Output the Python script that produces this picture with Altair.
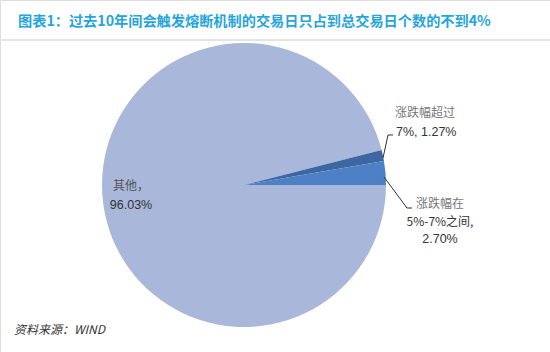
import math
import altair as alt
import pandas as pd

# ---- data ----
categories = ["其他", "涨跌幅超过7%", "涨跌幅在5%-7%之间"]
shares = [96.03, 1.27, 2.70]
order = [0, 1, 2]
colors = ["#A8B7DA", "#3C67A3", "#4D80C4"]

title_text = "图表1：过去10年间会触发熔断机制的交易日只占到总交易日个数的不到4%"
source_text = "资料来源：WIND"

df = pd.DataFrame({"cat": categories, "share": shares, "ord": order})
one = pd.DataFrame({"a": [0]})

CX, CY, R = 244, 185, 142

pie = alt.Chart(df).mark_arc(outerRadius=R, stroke=None).encode(
    theta=alt.Theta("share:Q", stack=True,
                    scale=alt.Scale(range=[math.pi / 2, math.pi / 2 + 2 * math.pi])),
    color=alt.Color("cat:N", scale=alt.Scale(domain=categories, range=colors), legend=None),
    order=alt.Order("ord:Q"),
    x=alt.value(CX),
    y=alt.value(CY),
)


def txt(s, x, y, size=12, color="#333333", align="center", weight="normal",
        style="normal", font="Noto Sans CJK SC"):
    return alt.Chart(one).mark_text(
        fontSize=size, color=color, align=align, baseline="middle",
        fontWeight=weight, fontStyle=style, font=font,
    ).encode(x=alt.value(x), y=alt.value(y), text=alt.value(s))


def seg(x1, y1, x2, y2, color="#333333", w=1):
    return alt.Chart(one).mark_rule(color=color, strokeWidth=w).encode(
        x=alt.value(x1), y=alt.value(y1), x2=alt.value(x2), y2=alt.value(y2))


pct = [f"{v:.2f}%" for v in shares]

layers = [
    seg(0, 40, 550, 40, color="#e3e3e3", w=2),
    pie,
    txt(title_text, 18, 22, size=14.2, color="#25A5DC", align="left", weight="bold"),
    # 其他
    txt("其他，", 131, 186, color="#555555"),
    txt(pct[0], 131, 205, size=12.5, color="#333333", font="Liberation Sans"),
    # 超过7%
    seg(383, 158, 388, 135),
    seg(388, 135, 393, 135),
    txt("涨跌幅超过", 395, 113, color="#777777", align="left"),
    txt("7%, " + pct[1], 396, 132, size=12.5, color="#333333", align="left", font="Liberation Sans"),
    # 5%-7%
    seg(384, 177, 407, 208),
    seg(407, 208, 412, 208),
    txt("涨跌幅在", 440, 204, color="#777777"),
    txt("5%-7%之间,", 440, 222, color="#333333"),
    txt(pct[2], 440, 239, size=12.5, color="#333333", font="Liberation Sans"),
    # source
    txt(source_text, 14, 330, size=12, color="#333333", align="left", style="italic"),
]

chart = alt.layer(*layers).properties(
    width=550, height=352,
    autosize=alt.AutoSizeParams(type="none"),
    padding=0,
).configure_view(stroke=None).configure(background="white")

chart.save("out.html", embed_options={"renderer": "svg", "actions": False})
